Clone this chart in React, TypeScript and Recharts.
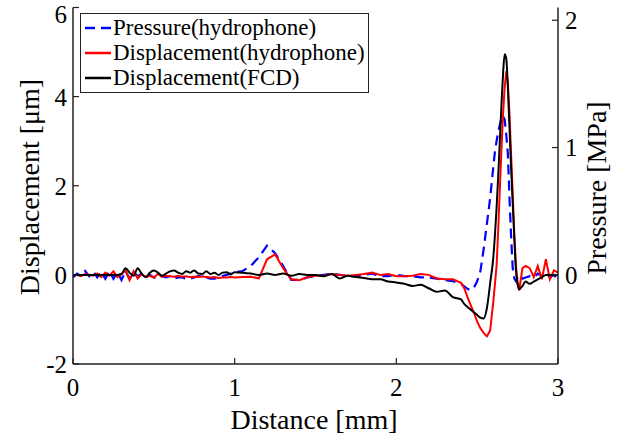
import { LineChart, Line, XAxis, YAxis, Legend, Label } from 'recharts'

// distance grid [mm], finer near the main peak
const distance = [
	0, 0.025, 0.05, 0.075, 0.1, 0.125, 0.15, 0.175, 0.2, 0.225, 0.25, 0.275, 0.3, 0.325, 0.35, 0.375, 0.4, 0.425, 0.45, 0.475,
	0.5, 0.525, 0.55, 0.575, 0.6, 0.625, 0.65, 0.675, 0.7, 0.725, 0.75, 0.775, 0.8, 0.825, 0.85, 0.875, 0.9, 0.925, 0.95, 0.975, 1.0,
	1.05, 1.1, 1.15, 1.2, 1.25, 1.3, 1.35, 1.4, 1.45, 1.5, 1.55, 1.6, 1.65, 1.7, 1.75, 1.8, 1.85, 1.9, 1.95, 2.0,
	2.05, 2.1, 2.15, 2.2, 2.25, 2.3, 2.35, 2.4,
	2.42, 2.44, 2.46, 2.48, 2.5, 2.52, 2.54, 2.56, 2.58, 2.6,
	2.61, 2.62, 2.63, 2.64, 2.65, 2.66, 2.67, 2.68, 2.69, 2.7, 2.71, 2.72, 2.73, 2.74, 2.75, 2.76, 2.78, 2.8,
	2.825, 2.85, 2.875, 2.9, 2.925, 2.95, 2.975, 3.0,
]

// pressure from hydrophone [MPa]
const pressure = [
	-0.02, 0.01, -0.01, 0.03, -0.01, 0.03, -0.02, 0.02, -0.03, 0.03, -0.03, 0.02, -0.04, 0.03, -0.03, 0.02, -0.01, 0.01, -0.02, 0.0,
	-0.02, -0.03, -0.01, -0.02, -0.01, -0.03, -0.02, -0.02, -0.03, -0.03, -0.02, -0.01, -0.01, -0.02, -0.03, -0.03, -0.02, -0.01, 0.0, 0.01, 0.02,
	0.03, 0.07, 0.14, 0.23, 0.17, 0.07, -0.04, -0.04, -0.02, -0.01, 0.0, 0.01, 0.0, -0.01, -0.01, 0.0, 0.01, -0.01, -0.01, 0.0,
	-0.01, -0.01, -0.02, -0.02, -0.03, -0.04, -0.05, -0.07,
	-0.09, -0.11, -0.12, -0.1, -0.05, 0.03, 0.2, 0.4, 0.6, 0.85,
	0.97, 1.05, 1.12, 1.18, 1.23, 1.25, 1.22, 1.1, 0.95, 0.6, 0.3, 0.05, -0.03, -0.05, -0.02, 0.0, -0.03, -0.02,
	-0.01, -0.02, 0.01, -0.01, 0.01, -0.02, 0.0, -0.04,
]

// displacement from hydrophone [um]
const dispHydrophone = [
	0, 0, -0.03, 0.02, 0, -0.02, 0.03, -0.05, 0.05, -0.02, 0.08, -0.05, 0.02, 0.1, -0.12, 0.08, -0.08, 0.02, -0.05, -0.02,
	-0.06, 0.02, -0.04, -0.02, -0.03, -0.04, -0.02, -0.04, -0.03, -0.05, -0.04, -0.05, -0.03, -0.05, -0.06, -0.05, -0.07, -0.06, -0.06, -0.05, -0.06,
	-0.05, -0.04, -0.08, 0.35, 0.46, 0.15, -0.1, -0.12, -0.05, -0.02, -0.02, 0.02, 0.0, -0.02, 0.0, 0.02, 0.05, 0.0, 0.02, -0.03,
	-0.03, -0.02, 0.02, 0.0, -0.08, -0.1, -0.1, -0.18,
	-0.3, -0.5, -0.68, -0.85, -1.05, -1.2, -1.3, -1.38, -1.25, -0.6,
	-0.2, 0.2, 1.0, 1.9, 2.8, 3.6, 4.2, 4.57, 4.3, 3.6, 2.7, 1.8, 0.9, 0.2, -0.2, -0.35, 0.15, 0.2,
	0.15, -0.05, 0.2, -0.1, 0.35, -0.1, 0.1, 0.05,
]

// displacement measured by FCD [um]
const dispFcd = [
	0, 0, 0, 0, 0, 0, 0, 0, 0, 0, 0, 0, 0.02, 0.15, 0.05, -0.02, 0.15, 0.02, -0.05, 0.05,
	0.1, 0.05, -0.02, 0.03, 0.08, 0.1, 0.05, 0.02, 0.08, 0.05, 0.1, 0.03, 0.02, 0.08, 0.02, 0.05, 0.0, 0.05, 0.06, 0.01, 0.06,
	0.05, 0.03, 0.0, 0.03, 0.0, 0.03, -0.02, 0.02, 0.0, 0.0, -0.03, 0.02, -0.08, -0.02, -0.05, -0.07, -0.1, -0.1, -0.15, -0.17,
	-0.2, -0.25, -0.22, -0.3, -0.38, -0.35, -0.5, -0.55,
	-0.65, -0.72, -0.78, -0.84, -0.9, -0.96, -0.98, -0.75, -0.2, 0.4,
	0.9, 1.5, 2.2, 3.0, 3.8, 4.5, 4.95, 4.85, 4.2, 3.3, 2.4, 1.6, 0.8, 0.1, -0.2, -0.32, -0.25, -0.15,
	-0.2, -0.15, -0.1, -0.05, 0.0, 0.0, 0.0, 0.0,
]

const seriesNames = ['Pressure(hydrophone)', 'Displacement(hydrophone)', 'Displacement(FCD)']
const xTicks = [0, 1, 2, 3]
const leftTicks = [-2, 0, 2, 4, 6]
const rightTicks = [0, 1, 2]

const chartData = distance.map((d, i) => ({
	distance: d,
	pressure: pressure[i],
	dispHydrophone: dispHydrophone[i],
	dispFcd: dispFcd[i],
}))

const font = "'Liberation Serif', 'Times New Roman', Times, 'DejaVu Serif', serif"
const axisColor = '#222'
const tickStyle = { fill: '#000', fontSize: 25, fontFamily: font }

function LegendBox({ payload }: any) {
	// keep the plotting order, not alphabetical
	const items = seriesNames
		.map((name) => (payload || []).find((p: any) => p.value === name))
		.filter(Boolean)
	return (
		<div
			style={{
				boxSizing: 'border-box',
				width: 289,
				height: 80,
				border: `1.5px solid ${axisColor}`,
				background: '#fff',
				padding: '1px 0 0 3px',
				fontFamily: font,
				fontSize: 23,
				lineHeight: '25px',
				color: '#000',
			}}
		>
			{items.map((entry: any) => (
				<div key={entry.value} style={{ display: 'flex', alignItems: 'center', whiteSpace: 'nowrap' }}>
					<svg width={28} height={10}>
						<line
							x1={1}
							y1={5}
							x2={27}
							y2={5}
							stroke={entry.color}
							strokeWidth={2.5}
							strokeDasharray={entry.payload?.strokeDasharray}
						/>
					</svg>
					<span style={{ marginLeft: 1 }}>{entry.value}</span>
				</div>
			))}
		</div>
	)
}

export default function App() {
	return (
		<div style={{ position: 'absolute', left: 0, top: 0 }}>
			<LineChart
				width={622}
				height={440}
				data={chartData}
				margin={{ top: 7.5, right: 0, bottom: 0, left: 0 }}
			>
				<XAxis
					dataKey='distance'
					type='number'
					domain={[0, 3]}
					ticks={xTicks}
					allowDataOverflow
					height={76}
					tickSize={-6}
					tickMargin={20}
					tick={tickStyle}
					axisLine={{ stroke: axisColor, strokeWidth: 1.5 }}
					tickLine={{ stroke: axisColor, strokeWidth: 1.2 }}
				>
					<Label
						content={() => (
							<text x={314} y={429} textAnchor='middle' fontFamily={font} fontSize={28} fill='#000'>
								Distance [mm]
							</text>
						)}
					/>
				</XAxis>
				<XAxis
					xAxisId='top'
					orientation='top'
					dataKey='distance'
					type='number'
					domain={[0, 3]}
					ticks={xTicks}
					allowDataOverflow
					height={0}
					tickSize={-6}
					tick={false}
					axisLine={{ stroke: axisColor, strokeWidth: 1.5 }}
					tickLine={{ stroke: axisColor, strokeWidth: 1.2 }}
				/>
				<YAxis
					yAxisId='left'
					domain={[-2, 6]}
					ticks={leftTicks}
					allowDataOverflow
					width={73}
					tickSize={-6}
					tickMargin={12}
					tick={tickStyle}
					axisLine={{ stroke: axisColor, strokeWidth: 1.5 }}
					tickLine={{ stroke: axisColor, strokeWidth: 1.2 }}
				>
					<Label
						content={() => (
							<text
								x={39}
								y={187}
								transform='rotate(-90, 39, 187)'
								textAnchor='middle'
								fontFamily={font}
								fontSize={28}
								fill='#000'
							>
								Displacement [μm]
							</text>
						)}
					/>
				</YAxis>
				<YAxis
					yAxisId='right'
					orientation='right'
					domain={[-0.7, 2.1]}
					ticks={rightTicks}
					allowDataOverflow
					width={64}
					tickSize={-6}
					tickMargin={13}
					tick={tickStyle}
					axisLine={{ stroke: axisColor, strokeWidth: 1.5 }}
					tickLine={{ stroke: axisColor, strokeWidth: 1.2 }}
				>
					<Label
						content={() => (
							<text
								x={606}
								y={188}
								transform='rotate(-90, 606, 188)'
								textAnchor='middle'
								fontFamily={font}
								fontSize={28}
								fill='#000'
							>
								Pressure [MPa]
							</text>
						)}
					/>
				</YAxis>
				<Legend
					layout='vertical'
					align='center'
					verticalAlign='middle'
					content={LegendBox}
					wrapperStyle={{ left: 80, top: 13, width: 'auto' }}
				/>
				<Line
					yAxisId='right'
					name={seriesNames[0]}
					dataKey='pressure'
					stroke='#0000ff'
					strokeWidth={2.2}
					strokeDasharray='10 6'
					dot={false}
					type='linear'
					isAnimationActive={false}
				/>
				<Line
					yAxisId='left'
					name={seriesNames[1]}
					dataKey='dispHydrophone'
					stroke='#ff0000'
					strokeWidth={2}
					dot={false}
					type='linear'
					isAnimationActive={false}
				/>
				<Line
					yAxisId='left'
					name={seriesNames[2]}
					dataKey='dispFcd'
					stroke='#000000'
					strokeWidth={2}
					dot={false}
					type='monotone'
					isAnimationActive={false}
				/>
			</LineChart>
		</div>
	)
}
